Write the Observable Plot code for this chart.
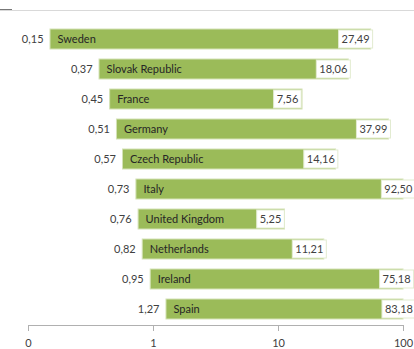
<!DOCTYPE html>
<html><head><meta charset="utf-8">
<script src="https://cdn.jsdelivr.net/npm/d3@7"></script>
<script src="https://cdn.jsdelivr.net/npm/@observablehq/plot@0.6"></script>
<style>
body{margin:0;background:#fff;width:414px;height:349px;overflow:hidden;position:relative;font-family:Lato,"Open Sans",sans-serif}
#chart{position:absolute;left:0;top:0}
#topline{position:absolute;left:0;top:10px;width:414px;height:1px;background:#d9d9d9}
#topmark{position:absolute;left:0;top:9px;width:12px;height:1px;background:#777}
</style></head><body>
<div id="chart"></div><div id="topline"></div><div id="topmark"></div>
<script>
const countries = ["Sweden","Slovak Republic","France","Germany","Czech Republic","Italy","United Kingdom","Netherlands","Ireland","Spain"];
const lowValues = [0.15,0.37,0.45,0.51,0.57,0.73,0.76,0.82,0.95,1.27];
const highValues = [27.49,18.06,7.56,37.99,14.16,92.50,5.25,11.21,75.18,83.18];
const xTicks = [0.1,1,10,100];
const xTickLabels = ["0","1","10","100"];

const fmt = v => v.toFixed(2).replace(".", ",");
const xMax = xTicks[xTicks.length - 1];
// stacked segments: [invisible lo] [value hi] [label holder hi], clipped at axis max
const rows = countries.map((c, i) => {
  const lo = lowValues[i], hi = highValues[i];
  const segEnd = Math.min(lo + hi, xMax), fullEnd = Math.min(lo + 2 * hi, xMax);
  return {country: c, lo, hi, barEnd: fullEnd, labelX: (segEnd + fullEnd) / 2};
});

const plot = Plot.plot({
  width: 414, height: 349,
  marginLeft: 28, marginRight: 11, marginTop: 22, marginBottom: 24,
  style: {fontFamily: "Lato, 'Open Sans', sans-serif", fontSize: "11px", background: "#fff"},
  x: {type: "log", domain: [xTicks[0], xMax]},
  y: {domain: countries, paddingInner: 0.34, paddingOuter: 0.17, axis: null},
  marks: [
    Plot.frame({anchor: "bottom", stroke: "#b0b0b0"}),
    Plot.axisX({ticks: xTicks, tickFormat: d => xTickLabels[xTicks.indexOf(d)], tickSize: 6, tickPadding: 8, stroke: "#b0b0b0", fill: "#404040", fontSize: 11, label: null}),
    Plot.barX(rows, {y: "country", x1: "lo", x2: "barEnd", fill: "#9BBB59", stroke: "#D4E2B6", strokeWidth: 1}),
    Plot.text(rows, {y: "country", x: "lo", text: "country", textAnchor: "start", dx: 7, fill: "#262626", fontSize: 11}),
    Plot.text(rows, {y: "country", x: "lo", text: d => fmt(d.lo), textAnchor: "end", dx: -7, fill: "#404040", fontSize: 11}),
    Plot.text(rows, {y: "country", x: "labelX", text: d => fmt(d.hi), fill: "#404040", fontSize: 11, ariaLabel: d => "value-" + d.country})
  ]
});
document.getElementById("chart").appendChild(plot);

// white label boxes behind the value labels (Excel-style data label fill)
const ys = plot.scale("y");
const svgRect = plot.getBoundingClientRect();
const NS = "http://www.w3.org/2000/svg";
plot.querySelectorAll('text[aria-label^="value-"]').forEach(t => {
  const country = t.getAttribute("aria-label").slice(6);
  let r = t.getBoundingClientRect();
  // keep labels of clipped bars inside the picture
  const overflow = (r.right - svgRect.left) - 413;
  if (overflow > 0) {
    const cur = t.getAttribute("transform") || "";
    t.setAttribute("transform", cur + ` translate(${-overflow},0)`);
    r = t.getBoundingClientRect();
  }
  const y0 = ys.apply(country);
  const rect = document.createElementNS(NS, "rect");
  rect.setAttribute("x", r.left - svgRect.left - 3);
  rect.setAttribute("width", r.width + 6);
  rect.setAttribute("y", y0 + 1);
  rect.setAttribute("height", ys.bandwidth - 2);
  rect.setAttribute("fill", "#fff");
  rect.setAttribute("stroke", "#E2EBD0");
  const group = t.parentNode;
  plot.insertBefore(rect, group);
});
</script>
</body></html>
